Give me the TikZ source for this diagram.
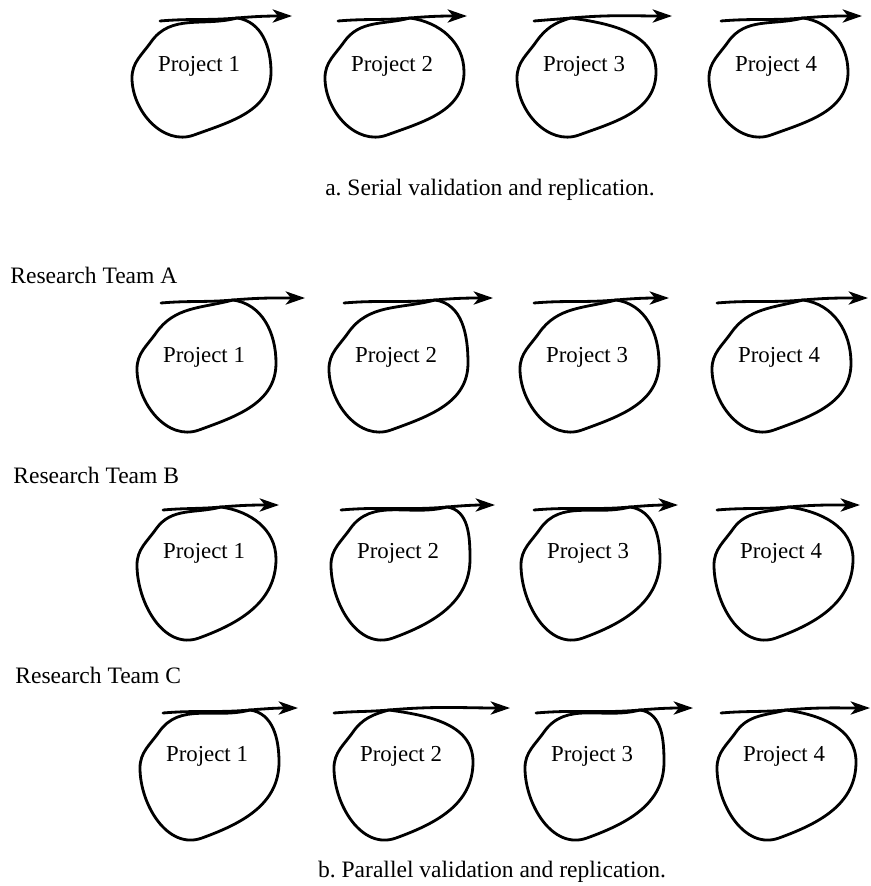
\documentclass[tikz,border=0pt]{standalone}
\usepackage{fontspec}
\setmainfont{Liberation Serif}
\usetikzlibrary{arrows.meta,calc,positioning}

\tikzset{
  proj/.style={font=\fontsize{13}{15}\selectfont, inner sep=1pt},
  team/.style={font=\fontsize{13.4}{16}\selectfont, anchor=west, inner sep=0pt},
  caption/.style={font=\fontsize{13.4}{16}\selectfont, inner sep=0pt},
  loopline/.style={line width=1.6pt, line cap=round, line join=round},
}

% one project: text node, its loop and the arrow over it
\newcommand{\projloop}[6]{%
  \node[proj] (#1#2) at (#3,-\texty) {Project #2};
  \coordinate (#1#2top) at (#4,-\liney);
  \coordinate (#1#2in) at (#5,-\liney-3);
  \coordinate (#1#2out) at (#6,-\liney+2);
  \draw[loopline] (#1#2top) to[out=-8,in=90] ($(#1#2)+(72,-6)$)
    to[out=-90,in=20] ($(#1#2)+(-5,\texty-\boty)$)
    to[out=200,in=-90] ($(#1#2)+(-67,-12)$)
    to[out=90,in=235] ($(#1#2)+(-48,24)$)
    to[out=55,in=195] (#1#2top);
  \draw[loopline,->] (#1#2in) to[out=5,in=185] (#1#2top) to[out=5,in=180] (#1#2out);
}

\begin{document}
\begin{tikzpicture}[%
>={Stealth[length=11pt,width=7.5pt,inset=3pt]},
x=0.02cm, y=0.02cm
]
\useasboundingbox (0,0) rectangle (871,-886);

% a: serial
\def\liney{18}\def\texty{66}\def\boty{135}
\foreach \n/\x/\cx/\sx/\tx in {1/199/237/160/292, 2/392/410/338/467, 3/584/571/534/672, 4/776/803/721/862}
  {\projloop{s}{\n}{\x}{\cx}{\sx}{\tx}}
\node[caption] (capa) at (490,-190) {a.\ Serial validation and replication.};

% b: parallel
\node[team] (teamA) at (10,-275) {Research Team A};
\def\liney{300}\def\texty{357}\def\boty{430}
\foreach \n/\x/\cx/\sx/\tx in {1/204/233/161/305, 2/396/435/344/493, 3/587/616/534/669, 4/779/803/717/868}
  {\projloop{A}{\n}{\x}{\cx}{\sx}{\tx}}

\node[team] (teamB) at (13,-475) {Research Team B};
\def\liney{507}\def\texty{553}\def\boty{638}
\foreach \n/\x/\cx/\sx/\tx in {1/204/221/163/279, 2/398/447/341/495, 3/588/630/534/678, 4/781/789/717/860}
  {\projloop{B}{\n}{\x}{\cx}{\sx}{\tx}}

\node[team] (teamC) at (15,-675) {Research Team C};
\def\liney{710}\def\texty{756}\def\boty{838}
\foreach \n/\x/\cx/\sx/\tx in {1/207/250/163/298, 2/401/389/334/510, 3/592/640/536/693, 4/784/786/721/870}
  {\projloop{C}{\n}{\x}{\cx}{\sx}{\tx}}

\node[caption] (capb) at (492,-872) {b.\ Parallel validation and replication.};
\end{tikzpicture}
\end{document}
